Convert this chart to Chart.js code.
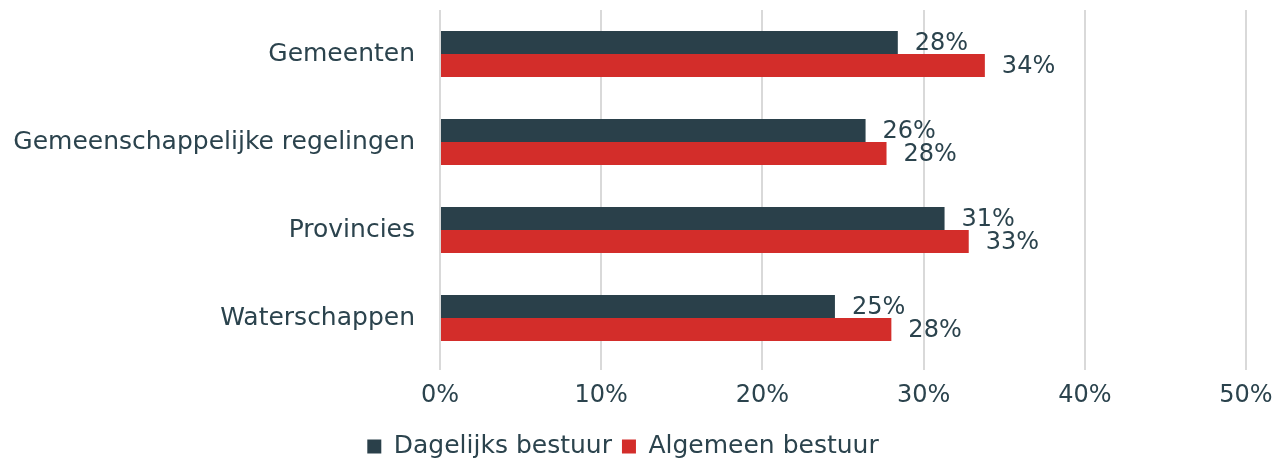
<!DOCTYPE html>
<html>
<head>
<meta charset="utf-8">
<script src="https://cdn.jsdelivr.net/npm/chart.js@4/dist/chart.umd.min.js"></script>
<style>
  html, body { margin: 0; padding: 0; background: #ffffff; }
  #wrap { width: 1286px; height: 459px; }
</style>
</head>
<body>
<div id="wrap"><canvas id="chart"></canvas></div>
<script>
// categories and series (shares)
const categories = ["Gemeenten", "Gemeenschappelijke regelingen", "Provincies", "Waterschappen"];
const seriesNames = ["Dagelijks bestuur", "Algemeen bestuur"];
const dagelijks = [0.284, 0.264, 0.313, 0.245];
const algemeen = [0.338, 0.277, 0.328, 0.280];
const xTicks = [0, 0.1, 0.2, 0.3, 0.4, 0.5];

const textColor = "#2b434d";
const fontFamily = "'DejaVu Sans', sans-serif";

// value labels to the right of each bar
const valueLabels = {
    id: "valueLabels",
    afterDatasetsDraw(chart) {
        const ctx = chart.ctx;
        ctx.save();
        ctx.font = "24px " + fontFamily;
        ctx.fillStyle = textColor;
        ctx.textAlign = "left";
        ctx.textBaseline = "middle";
        chart.data.datasets.forEach((ds, i) => {
            chart.getDatasetMeta(i).data.forEach((bar, j) => {
                const txt = Math.round(ds.data[j] * 100) + "%";
                ctx.fillText(txt, bar.x + 17, bar.y + 1);
            });
        });
        ctx.restore();
    }
};

new Chart(document.getElementById("chart"), {
    type: "bar",
    plugins: [valueLabels],
    data: {
        labels: categories,
        datasets: [
            { label: seriesNames[0], data: dagelijks, backgroundColor: "#2a404a" },
            { label: seriesNames[1], data: algemeen, backgroundColor: "#d32d2a" }
        ]
    },
    options: {
        indexAxis: "y",
        responsive: true,
        maintainAspectRatio: false,
        animation: false,
        layout: { padding: { top: 10, right: 40, left: 0, bottom: -10 } },
        datasets: { bar: { categoryPercentage: 0.523, barPercentage: 1.0 } },
        scales: {
            x: {
                min: 0,
                max: 0.5,
                afterBuildTicks: (axis) => { axis.ticks = xTicks.map(v => ({ value: v })); },
                afterFit: (axis) => { axis.paddingLeft = 0; axis.paddingRight = 0; axis.height = 62; },
                grid: { color: "#d9d9d9", lineWidth: 2, tickLength: 8, drawTicks: true },
                border: { display: false },
                ticks: {
                    color: textColor,
                    font: { size: 24, family: fontFamily },
                    padding: 11,
                    maxRotation: 0,
                    callback: (v) => Math.round(v * 100) + "%"
                }
            },
            y: {
                afterFit: (axis) => { axis.paddingTop = 0; axis.paddingBottom = 0; axis.width = 440; },
                grid: { display: false },
                border: { display: false },
                ticks: {
                    color: textColor,
                    font: { size: 25, family: fontFamily },
                    padding: 17
                }
            }
        },
        plugins: {
            tooltip: { enabled: false },
            legend: {
                position: "bottom",
                labels: {
                    color: textColor,
                    font: { size: 25, family: fontFamily },
                    boxWidth: 14,
                    boxHeight: 14,
                    padding: 10
                }
            }
        }
    }
});
</script>
</body>
</html>
